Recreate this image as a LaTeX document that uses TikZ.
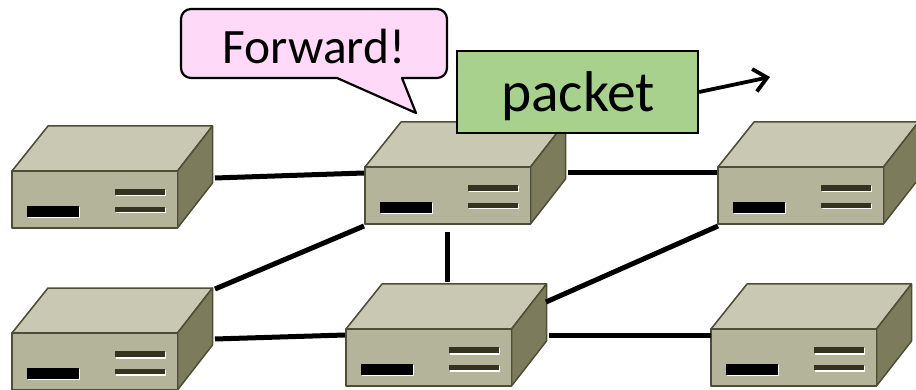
\documentclass[tikz,border=0pt]{standalone}
\usepackage{fontspec}
\setmainfont{Carlito}
\usetikzlibrary{arrows.meta}
\definecolor{devtop}{HTML}{C9C9B3}
\definecolor{devfront}{HTML}{B4B49A}
\definecolor{devside}{HTML}{7C7C5C}
\definecolor{devline}{HTML}{4E4E38}
\definecolor{slotdark}{HTML}{33331F}
\definecolor{bubble}{HTML}{FFD9F7}
\definecolor{pktgreen}{HTML}{A9D18E}
\tikzset{
  x=1pt,y=-1pt,
  devface/.style={draw=devline,line width=1.5pt,line join=round},
  link/.style={line width=5pt,black},
  device/.pic={
    \fill[devface,fill=devtop] (0,0) -- (36,-45) -- (200.5,-45) -- (165.5,0) -- cycle;
    \fill[devface,fill=devside] (165.5,0) -- (200.5,-45) -- (200.5,12) -- (165.5,57) -- cycle;
    \fill[devface,fill=devfront] (0,0) rectangle (165.5,57);
    \fill[white] (16,36) rectangle (68,47);
    \fill[black] (15,35) rectangle (67,46);
    \fill[white] (104,19) rectangle (154,25.5);
    \fill[slotdark] (103,18) rectangle (153,24);
    \fill[white] (104,37) rectangle (154,42.5);
    \fill[slotdark] (103,36) rectangle (153,41);
  }
}
\begin{document}
\begin{tikzpicture}
\useasboundingbox (0,0) rectangle (916,390);
\pic at (12,171) {device};
\pic at (365,167) {device};
\pic at (718,167) {device};
\pic at (12,333) {device};
\pic at (346,329) {device};
\pic at (711,329) {device};
\coordinate (a1) at (215,178);
\coordinate (b1) at (364,173);
\coordinate (b2) at (568,173);
\coordinate (c1) at (717,173);
\coordinate (b3) at (447,232);
\coordinate (e1) at (447,282);
\coordinate (b4) at (364,226);
\coordinate (d1) at (215,289);
\coordinate (e2) at (546,302);
\coordinate (c2) at (718,226);
\coordinate (d2) at (215,339);
\coordinate (e3) at (345,335);
\coordinate (e4) at (549,335);
\coordinate (f1) at (711,335);
\coordinate (arrowend) at (770,77);
\draw[link] (a1) -- (b1);
\draw[link] (b2) -- (c1);
\draw[link] (b3) -- (e1);
\draw[link] (b4) -- (d1);
\draw[link] (e2) -- (c2);
\draw[link] (d2) -- (e3);
\draw[link] (e4) -- (f1);
\draw[line width=2.2pt,black,line join=round,fill=bubble]
  (191,9) -- (437,9) arc[start angle=-90,end angle=0,radius=10]
  -- (447,68) arc[start angle=0,end angle=90,radius=10]
  -- (402,78) -- (416,113) -- (337,78) -- (191,78)
  arc[start angle=90,end angle=180,radius=10] -- (181,19)
  arc[start angle=180,end angle=270,radius=10] -- cycle;
\node[font=\fontsize{49.5}{50}\selectfont,inner sep=0pt,anchor=base] (fw) at (314,63.5) {Forward!};
\node[draw=black,line width=2.2pt,fill=pktgreen,minimum width=241pt,minimum height=82pt,inner sep=0pt] (pkt) at (577.5,92) {};
\node[font=\fontsize{57.5}{58}\selectfont,inner sep=0pt,anchor=base] (pktlabel) at (578,111.5) {packet};
\draw[line width=3.8pt,black,-{Straight Barb[length=13pt,width=23pt,line width=3.8pt]}] (pkt.east) -- (arrowend);
\end{tikzpicture}
\end{document}
